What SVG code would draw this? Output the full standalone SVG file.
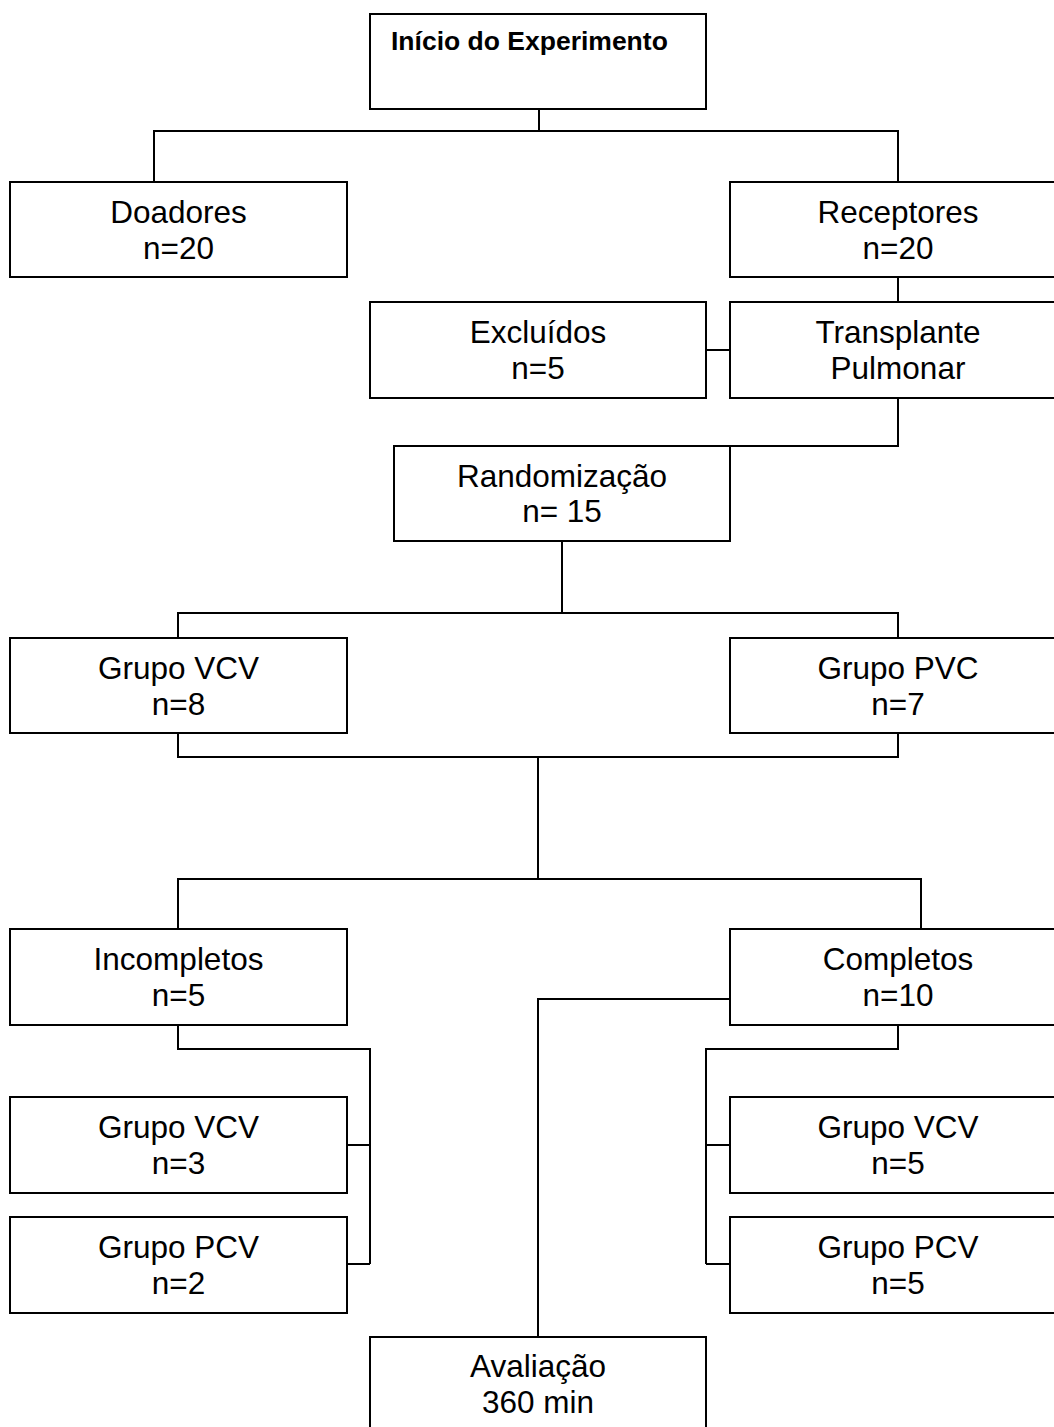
<svg xmlns="http://www.w3.org/2000/svg" width="1054" height="1427" viewBox="0 0 1054 1427">
<style>
.box{fill:#fff;stroke:#000;stroke-width:2}
.con{fill:none;stroke:#000;stroke-width:2}
text{font-family:"Liberation Sans",Arial,sans-serif;font-size:31.5px;fill:#000;text-anchor:middle}
.title{font-weight:bold;font-size:26.5px;text-anchor:start}
</style>
<rect width="1054" height="1427" fill="#fff"/>
<g id="connectors" class="con">
<path d="M539,109V131M154,182V131H898V182"/>
<path d="M898,277V302"/>
<path d="M706,350H730"/>
<path d="M898,398V446H730"/>
<path d="M562,541V613M178,638V613H898V638"/>
<path d="M178,733V757H898V733M538,757V879M178,929V879H921V929"/>
<path d="M178,1025V1049H370V1264M346,1145H370M346,1264H370"/>
<path d="M898,1025V1049H706V1264M706,1145H730M706,1264H730"/>
<path d="M730,999H538V1337"/>
</g>
<g id="inicio"><rect class="box" x="370" y="14" width="336" height="95"/><text class="title" x="391" y="50">Início do Experimento</text></g>
<g id="doadores"><rect class="box" x="10" y="182" width="337" height="95"/><text x="178.5" y="223">Doadores</text><text x="178.5" y="259">n=20</text></g>
<g id="receptores"><rect class="box" x="730" y="182" width="336" height="95"/><text x="898" y="223">Receptores</text><text x="898" y="259">n=20</text></g>
<g id="excluidos"><rect class="box" x="370" y="302" width="336" height="96"/><text x="538" y="343">Excluídos</text><text x="538" y="379">n=5</text></g>
<g id="transplante"><rect class="box" x="730" y="302" width="336" height="96"/><text x="898" y="343">Transplante</text><text x="898" y="379">Pulmonar</text></g>
<g id="randomizacao"><rect class="box" x="394" y="446" width="336" height="95"/><text x="562" y="487">Randomização</text><text x="562" y="522">n= 15</text></g>
<g id="grupo-vcv-1"><rect class="box" x="10" y="638" width="337" height="95"/><text x="178.5" y="679">Grupo VCV</text><text x="178.5" y="715">n=8</text></g>
<g id="grupo-pvc"><rect class="box" x="730" y="638" width="336" height="95"/><text x="898" y="679">Grupo PVC</text><text x="898" y="715">n=7</text></g>
<g id="incompletos"><rect class="box" x="10" y="929" width="337" height="96"/><text x="178.5" y="970">Incompletos</text><text x="178.5" y="1006">n=5</text></g>
<g id="completos"><rect class="box" x="730" y="929" width="336" height="96"/><text x="898" y="970">Completos</text><text x="898" y="1006">n=10</text></g>
<g id="grupo-vcv-inc"><rect class="box" x="10" y="1097" width="337" height="96"/><text x="178.5" y="1138">Grupo VCV</text><text x="178.5" y="1174">n=3</text></g>
<g id="grupo-pcv-inc"><rect class="box" x="10" y="1217" width="337" height="96"/><text x="178.5" y="1258">Grupo PCV</text><text x="178.5" y="1294">n=2</text></g>
<g id="grupo-vcv-comp"><rect class="box" x="730" y="1097" width="336" height="96"/><text x="898" y="1138">Grupo VCV</text><text x="898" y="1174">n=5</text></g>
<g id="grupo-pcv-comp"><rect class="box" x="730" y="1217" width="336" height="96"/><text x="898" y="1258">Grupo PCV</text><text x="898" y="1294">n=5</text></g>
<g id="avaliacao"><rect class="box" x="370" y="1337" width="336" height="100"/><text x="538" y="1377">Avaliação</text><text x="538" y="1413">360 min</text></g>
</svg>
